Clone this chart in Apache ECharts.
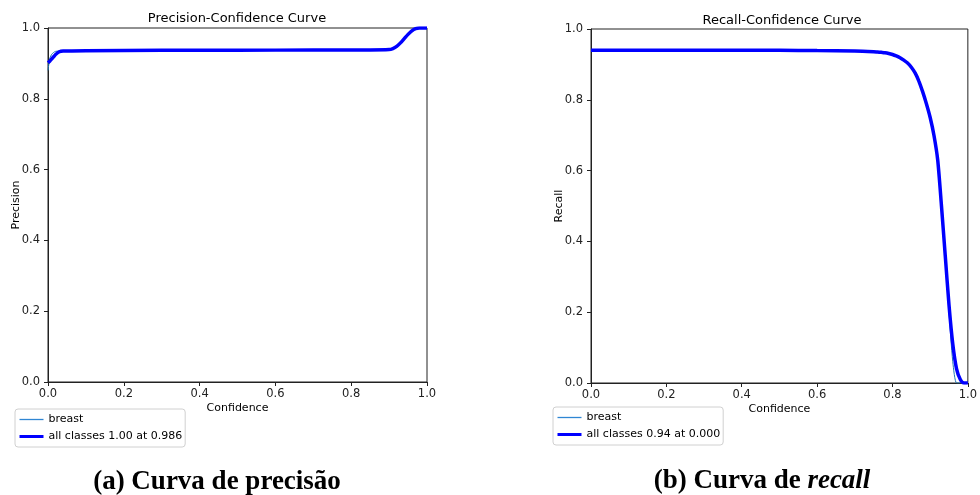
<!DOCTYPE html>
<html><head><meta charset="utf-8">
<script src="https://cdn.jsdelivr.net/npm/echarts@6/dist/echarts.min.js"></script>
<style>html,body{margin:0;padding:0;background:#fff}#c{width:980px;height:495px}</style>
</head><body><div id="c"></div>
<script>
// ---- data ----
const titles = ['Precision-Confidence Curve', 'Recall-Confidence Curve'];
const yNames = ['Precision', 'Recall'];
const xName = 'Confidence';
const ticks = [0, 0.2, 0.4, 0.6, 0.8, 1.0];
const seriesNames = ['breast'];
const precisionLegend = 'all classes 1.00 at 0.986';
const recallLegend = 'all classes 0.94 at 0.000';

const precBreastX = [0, 0.005, 0.01, 0.015, 0.02, 0.03, 0.04, 0.1, 0.3, 0.5, 0.7, 0.85, 0.9, 0.91, 0.92, 0.93, 0.94, 0.95, 0.96, 0.97, 0.98, 0.99, 1.0];
const precBreastY = [0.88, 0.915, 0.926, 0.931, 0.934, 0.935, 0.936, 0.936, 0.937, 0.937, 0.938, 0.938, 0.939, 0.942, 0.949, 0.96, 0.972, 0.984, 0.993, 0.998, 1.0, 1.0, 1.0];
const precAllX = [0, 0.005, 0.01, 0.015, 0.02, 0.03, 0.04, 0.1, 0.3, 0.5, 0.7, 0.85, 0.9, 0.91, 0.92, 0.93, 0.94, 0.95, 0.96, 0.97, 0.98, 0.99, 1.0];
const precAllY = [0.902, 0.907, 0.913, 0.919, 0.925, 0.933, 0.935, 0.936, 0.937, 0.937, 0.938, 0.938, 0.939, 0.942, 0.948, 0.958, 0.97, 0.982, 0.992, 0.998, 1.0, 1.0, 1.0];

const recAllX = [0, 0.3, 0.5, 0.6, 0.7, 0.75, 0.76, 0.77, 0.78, 0.79, 0.8, 0.81, 0.82, 0.83, 0.84, 0.85, 0.86, 0.87, 0.88, 0.89, 0.9, 0.91, 0.92, 0.93, 0.94, 0.95, 0.96, 0.97, 0.98, 0.99, 1.0];
const recAllY = [0.94, 0.94, 0.94, 0.939, 0.938, 0.936, 0.935, 0.934, 0.933, 0.931, 0.928, 0.924, 0.919, 0.912, 0.904, 0.892, 0.876, 0.853, 0.823, 0.789, 0.75, 0.70, 0.63, 0.50, 0.36, 0.22, 0.11, 0.04, 0.01, 0.0, 0.0];
const recBreastX = [0, 0.3, 0.5, 0.6, 0.7, 0.75, 0.76, 0.77, 0.78, 0.79, 0.8, 0.81, 0.82, 0.83, 0.84, 0.85, 0.86, 0.87, 0.88, 0.89, 0.9, 0.91, 0.92, 0.93, 0.94, 0.95, 0.96, 0.97, 0.98, 0.99, 1.0];
const recBreastY = [0.94, 0.94, 0.94, 0.939, 0.938, 0.936, 0.935, 0.934, 0.933, 0.931, 0.928, 0.924, 0.919, 0.912, 0.904, 0.892, 0.876, 0.853, 0.823, 0.789, 0.75, 0.70, 0.63, 0.50, 0.36, 0.20, 0.06, 0.0, 0.0, 0.0, 0.0];

const captionA = '(a) Curva de precisão';
const captionBPlain = '(b) Curva de ';
const captionBItalic = 'recall';

// ---- build ----
const zip = (xs, ys) => xs.map((x, i) => [x, ys[i]]);
const FONT = 'DejaVu Sans';
const grids = [
  {left: 48, top: 28, width: 379, height: 354},
  {left: 591, top: 29, width: 381, height: 354}
];
function axisBase(idx, isX) {
  return {
    type: 'value', gridIndex: idx, min: 0, max: 1, interval: 0.2,
    name: isX ? xName : yNames[idx], nameLocation: 'middle',
    nameGap: isX ? 21 : 26, nameMoveOverlap: false,
    nameTextStyle: {fontFamily: FONT, fontSize: 11, color: '#000'},
    axisLine: {show: true, lineStyle: {color: '#222', width: 1}},
    axisTick: {show: true, length: 4, inside: false, lineStyle: {color: '#222'}},
    axisLabel: {fontFamily: FONT, fontSize: 11.5, color: '#222', margin: isX ? 6 : 8,
      formatter: v => v.toFixed(1)},
    splitLine: {show: false}
  };
}
const thin = '#1f77b4', thick = '#0000ff';
function mk(name, data, idx, color, width, z) {
  return {type: 'line', name, data, xAxisIndex: idx, yAxisIndex: idx,
    showSymbol: false, symbol: 'none', smooth: 0.25,
    lineStyle: {color, width}, itemStyle: {color}, z, clip: true, animation: false};
}
function legendData(names) {
  return [
    {name: names[0], lineStyle: {width: 1.3, color: '#2f86d3'}, itemStyle: {color: 'rgba(0,0,0,0)', borderWidth: 0}},
    {name: names[1], lineStyle: {width: 3, color: thick}, itemStyle: {color: 'rgba(0,0,0,0)', borderWidth: 0}}
  ];
}
const legendBase = {orient: 'vertical', itemWidth: 24, itemHeight: 10, itemGap: 6,
  padding: [5, 3, 5, 3], borderColor: '#d0d0d0', borderWidth: 1, borderRadius: 3,
  backgroundColor: '#fff', textStyle: {fontFamily: FONT, fontSize: 11, color: '#000'},
  selectedMode: false};
const option = {
  animation: false,
  backgroundColor: '#fff',
  title: [
    {text: titles[0], left: 237, top: 12, textAlign: 'center', padding: 0,
      textStyle: {fontFamily: FONT, fontSize: 13, fontWeight: 'normal', color: '#000'}},
    {text: titles[1], left: 782, top: 14, textAlign: 'center', padding: 0,
      textStyle: {fontFamily: FONT, fontSize: 13, fontWeight: 'normal', color: '#000'}},
    {text: captionA, left: 217, top: 469, textAlign: 'center', padding: 0,
      textStyle: {fontFamily: 'Liberation Serif', fontSize: 27, fontWeight: 'bold', color: '#000'}},
    {text: '{n|' + captionBPlain + '}{i|' + captionBItalic + '}', left: 762, top: 468, textAlign: 'center', padding: 0,
      textStyle: {rich: {
        n: {fontFamily: 'Liberation Serif', fontSize: 27, fontWeight: 'bold', color: '#000'},
        i: {fontFamily: 'Liberation Serif', fontSize: 27, fontWeight: 'bold', fontStyle: 'italic', color: '#000'}
      }}}
  ],
  grid: grids.map(g => Object.assign({show: true, borderColor: '#222', borderWidth: 1, backgroundColor: 'transparent'}, g)),
  xAxis: [axisBase(0, true), axisBase(1, true)],
  yAxis: [axisBase(0, false), axisBase(1, false)],
  legend: [
    Object.assign({left: 15, top: 409, data: legendData([seriesNames[0], precisionLegend])}, legendBase),
    Object.assign({left: 553, top: 407, data: legendData([seriesNames[0] + ' ', recallLegend]),
      formatter: n => n.trim()}, legendBase)
  ],
  series: [
    mk(seriesNames[0], zip(precBreastX, precBreastY), 0, thin, 1, 2),
    mk(precisionLegend, zip(precAllX, precAllY), 0, thick, 3.5, 3),
    mk(seriesNames[0] + ' ', zip(recBreastX, recBreastY), 1, thin, 1, 2),
    mk(recallLegend, zip(recAllX, recAllY), 1, thick, 3.5, 3)
  ]
};
const chart = echarts.init(document.getElementById('c'), null, {renderer: 'canvas'});
chart.setOption(option);
</script></body></html>
